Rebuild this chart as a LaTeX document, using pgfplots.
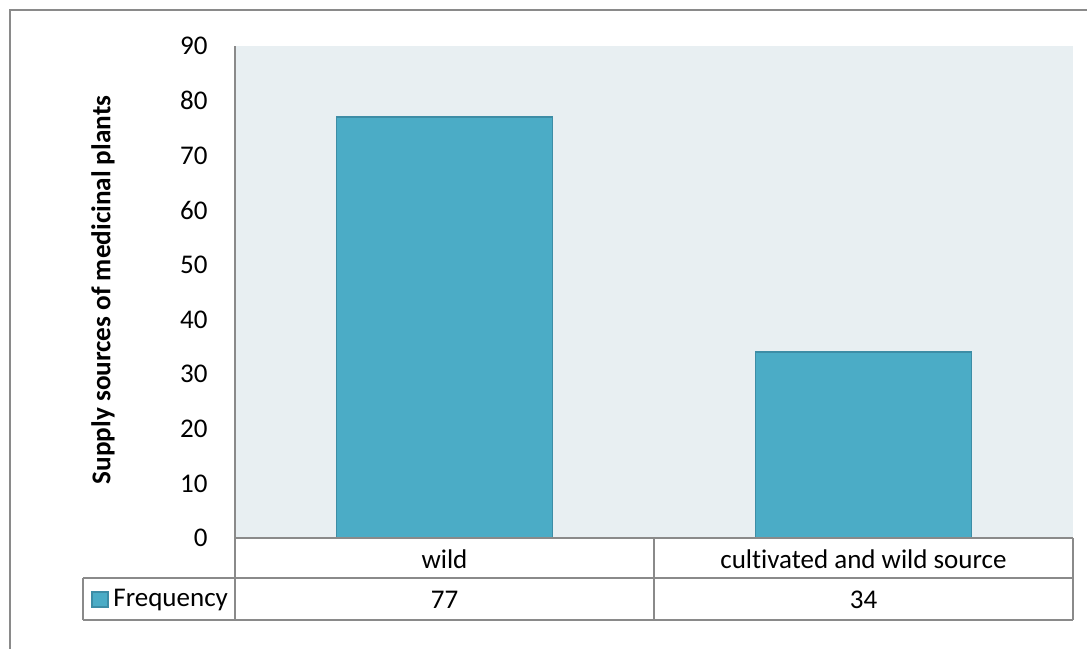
\documentclass[border=0pt]{standalone}
\usepackage{fontspec}
\setmainfont{Carlito}[Ligatures={NoCommon}]
\usepackage{pgfplots}
\pgfplotsset{compat=1.18}
\definecolor{barfill}{HTML}{4BACC6}
\definecolor{baredge}{HTML}{3D8DA6}
\definecolor{plotbg}{HTML}{E8EFF2}
\definecolor{linegray}{HTML}{8A8A8A}
\begin{document}
\begin{tikzpicture}[x=0.5pt,y=0.5pt,font=\fontsize{13.5pt}{15pt}\selectfont]
\useasboundingbox (0,0) rectangle (1087,648);
% outer frame (left and top visible)
\draw[linegray, line width=1pt] (10,-20) -- (10,638) -- (1110,638);
\begin{axis}[
  at={(235*0.5pt,110*0.5pt)}, anchor=south west,
  scale only axis, width=419pt, height=246pt,
  xmin=-0.5, xmax=1.5, ymin=0, ymax=90,
  ytick={0,10,...,90},
  xtick=\empty,
  axis x line=none,
  axis y line*=left,
  axis line style={linegray, line width=1pt, -},
  major tick length=0pt,
  yticklabel style={anchor=east, inner sep=0pt, xshift=-13.5pt, font=\fontsize{13.5pt}{15pt}\selectfont},
  /pgf/number format/assume math mode=true,
  axis background/.style={fill=plotbg, draw=none},
  clip=false,
]
\addplot[ybar, bar width=108pt, bar shift=0pt, fill=barfill, draw=baredge, line width=0.7pt]
  coordinates {(0,77) (1,34)};
\end{axis}
% y label
\node[rotate=90, font=\fontsize{13.6pt}{15pt}\selectfont\bfseries] at (103,358) {Supply sources of medicinal plants};
% data table
\begin{scope}[linegray, line width=1pt]
\draw (235,110) -- (1073,110);
\draw (83,70) -- (1073,70);
\draw (83,28) -- (1073,28);
\draw (235,110) -- (235,28);
\draw (654,110) -- (654,28);
\draw (1073,110) -- (1073,28);
\draw (83,70) -- (83,28);
\end{scope}
\node at (444.5,89) {wild};
\node at (863.5,89) {cultivated and wild source};
\node at (444.5,48) {77};
\node at (863.5,48) {34};
\fill[barfill, draw=baredge, line width=0.6pt] (92,41) rectangle (108,56);
\node[anchor=west, inner sep=0pt] at (113,48) {Frequency};
\end{tikzpicture}
\end{document}
